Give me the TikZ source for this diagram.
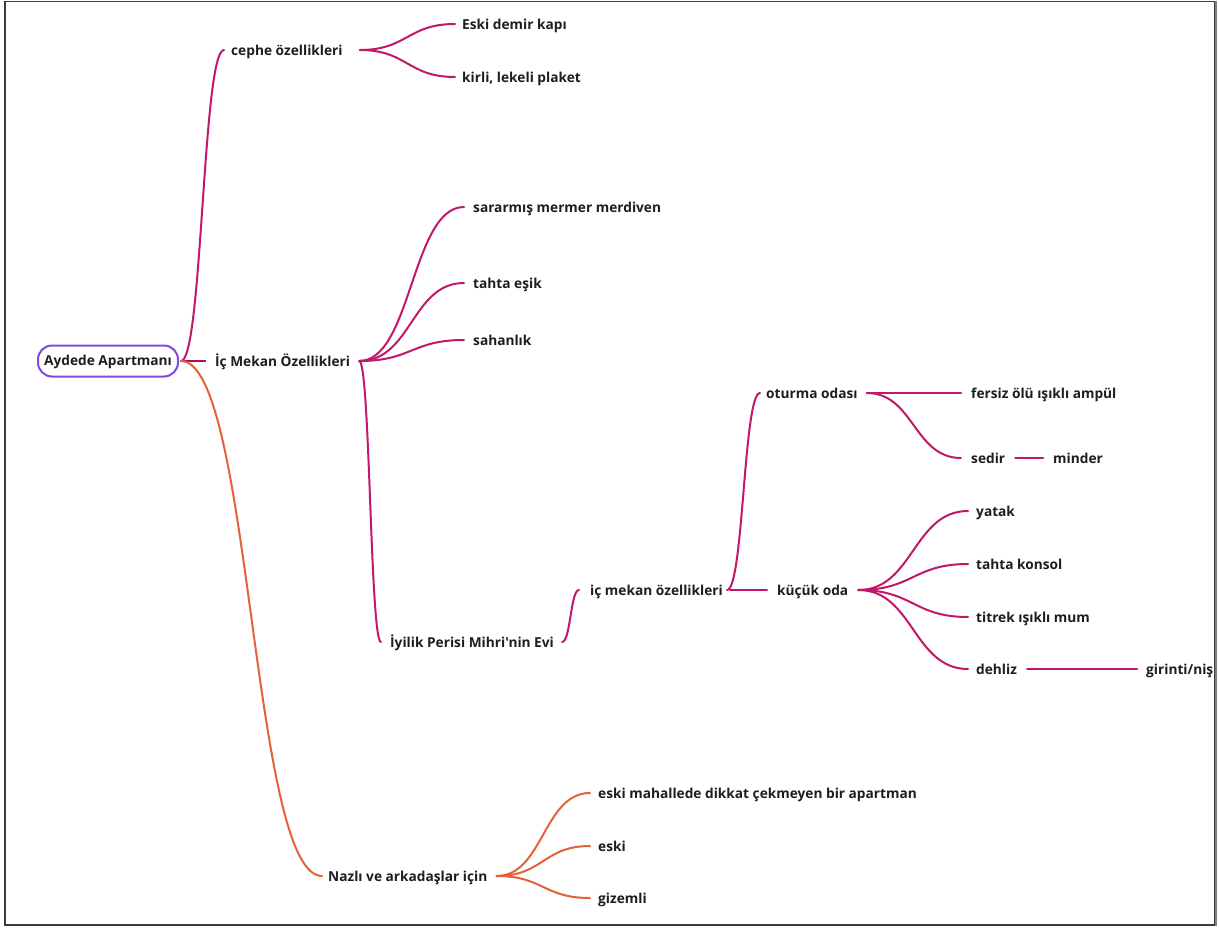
\documentclass[tikz,border=0pt]{standalone}
\usepackage{fontspec}
\setmainfont{Open Sans}[Ligatures=TeXOff]
\usetikzlibrary{calc}
\definecolor{mag}{RGB}{194,24,106}
\definecolor{magdark}{RGB}{165,18,88}
\definecolor{orng}{RGB}{228,98,58}
\definecolor{purp}{RGB}{125,75,225}
\definecolor{txtc}{RGB}{30,30,30}
\definecolor{framec}{RGB}{60,60,60}
\tikzset{
  br/.style={draw=mag, line width=2pt, line cap=round},
  bro/.style={draw=orng, line width=2pt, line cap=round},
  lbl/.style={anchor=west, inner sep=0pt, text height=14pt, text depth=3.8pt,
    font=\bfseries\fontsize{13.7}{16}\selectfont, text=txtc},
  rootbox/.style={draw=purp, line width=2pt, rounded corners=14pt, minimum width=140pt,
    minimum height=31pt, inner sep=0pt, text height=13pt, text depth=3.5pt,
    font=\bfseries\fontsize{13.7}{16}\selectfont, text=txtc}
}
\newcommand\mmc[3][]{\draw[br,#1] let \p1=#2, \p2=#3 in #2 .. controls ({(\x1+\x2)/2},\y1) and ({(\x1+\x2)/2},\y2) .. #3;}
\begin{document}
\begin{tikzpicture}[x=1pt,y=-1pt]
\useasboundingbox (0,0) rectangle (1219,927);
\fill[white] (0,0) rectangle (1219,927);
\draw[framec, line width=1.2pt] (5,1.5) rectangle (1215,925);
\draw[gray, line width=2pt] (1215.5,1) -- (1215.5,926);
% nodes
\node[rootbox] (root) at (108,361) {Aydede Apartmanı};
\node[lbl] (cephe) at (231,50) {cephe özellikleri};
\node[lbl] (demir) at (462,24) {Eski demir kapı};
\node[lbl] (kirli) at (462,77) {kirli, lekeli plaket};
\node[lbl] (ic) at (215,361) {İç Mekan Özellikleri};
\node[lbl] (sarar) at (473,207) {sararmış mermer merdiven};
\node[lbl] (esik) at (473,283) {tahta eşik};
\node[lbl] (sahan) at (473,340) {sahanlık};
\node[lbl] (iyilik) at (390,642) {İyilik Perisi Mihri'nin Evi};
\node[lbl] (icmek) at (590,590) {iç mekan özellikleri};
\node[lbl] (oturma) at (766,393) {oturma odası};
\node[lbl] (fersiz) at (971,393) {fersiz ölü ışıklı ampül};
\node[lbl] (sedir) at (971,458) {sedir};
\node[lbl] (minder) at (1053,458) {minder};
\node[lbl] (kucuk) at (777,590) {küçük oda};
\node[lbl] (yatak) at (976,511) {yatak};
\node[lbl] (konsol) at (976,564) {tahta konsol};
\node[lbl] (titrek) at (976,617) {titrek ışıklı mum};
\node[lbl] (dehliz) at (976,669) {dehliz};
\node[lbl] (girinti) at (1146,669) {girinti/niş};
\node[lbl] (nazli) at (328,876) {Nazlı ve arkadaşlar için};
\node[lbl] (mahalle) at (598,793) {eski mahallede dikkat çekmeyen bir apartman};
\node[lbl] (eski) at (598,846) {eski};
\node[lbl] (gizemli) at (598,898) {gizemli};
% root branches
\mmc{([xshift=2pt]root.east)}{([xshift=-7pt]cephe.west)}
\draw[magdark, line width=2.6pt] ([xshift=4pt]root.east) -- ([xshift=-9pt]ic.west);
\mmc[bro]{([xshift=2pt]root.east)}{([xshift=-6pt]nazli.west)}
% cephe
\mmc{([xshift=17pt]cephe.east)}{([xshift=-7pt]demir.west)}
\mmc{([xshift=17pt]cephe.east)}{([xshift=-7pt]kirli.west)}
% ic mekan
\mmc{([xshift=9pt]ic.east)}{([xshift=-9pt]sarar.west)}
\mmc{([xshift=9pt]ic.east)}{([xshift=-9pt]esik.west)}
\mmc{([xshift=9pt]ic.east)}{([xshift=-9pt]sahan.west)}
\mmc{([xshift=9pt]ic.east)}{([xshift=-9pt]iyilik.west)}
% iyilik
\mmc{([xshift=8pt]iyilik.east)}{([xshift=-11pt]icmek.west)}
\mmc{([xshift=4pt]icmek.east)}{([xshift=-6pt]oturma.west)}
\draw[br] ([xshift=7pt]icmek.east) -- ([xshift=-10pt]kucuk.west);
% oturma
\draw[br] ([xshift=9pt]oturma.east) -- ([xshift=-10pt]fersiz.west);
\mmc{([xshift=9pt]oturma.east)}{([xshift=-10pt]sedir.west)}
\draw[br, line width=2.6pt] ([xshift=10pt]sedir.east) -- ([xshift=-10pt]minder.west);
% kucuk oda
\mmc{([xshift=10pt]kucuk.east)}{([xshift=-8pt]yatak.west)}
\mmc{([xshift=10pt]kucuk.east)}{([xshift=-8pt]konsol.west)}
\mmc{([xshift=10pt]kucuk.east)}{([xshift=-8pt]titrek.west)}
\mmc{([xshift=10pt]kucuk.east)}{([xshift=-8pt]dehliz.west)}
\draw[br, line width=2.6pt] ([xshift=10pt]dehliz.east) -- ([xshift=-9pt]girinti.west);
% nazli
\mmc[bro]{([xshift=9pt]nazli.east)}{([xshift=-8pt]mahalle.west)}
\mmc[bro]{([xshift=9pt]nazli.east)}{([xshift=-8pt]eski.west)}
\mmc[bro]{([xshift=9pt]nazli.east)}{([xshift=-8pt]gizemli.west)}
\end{tikzpicture}
\end{document}
